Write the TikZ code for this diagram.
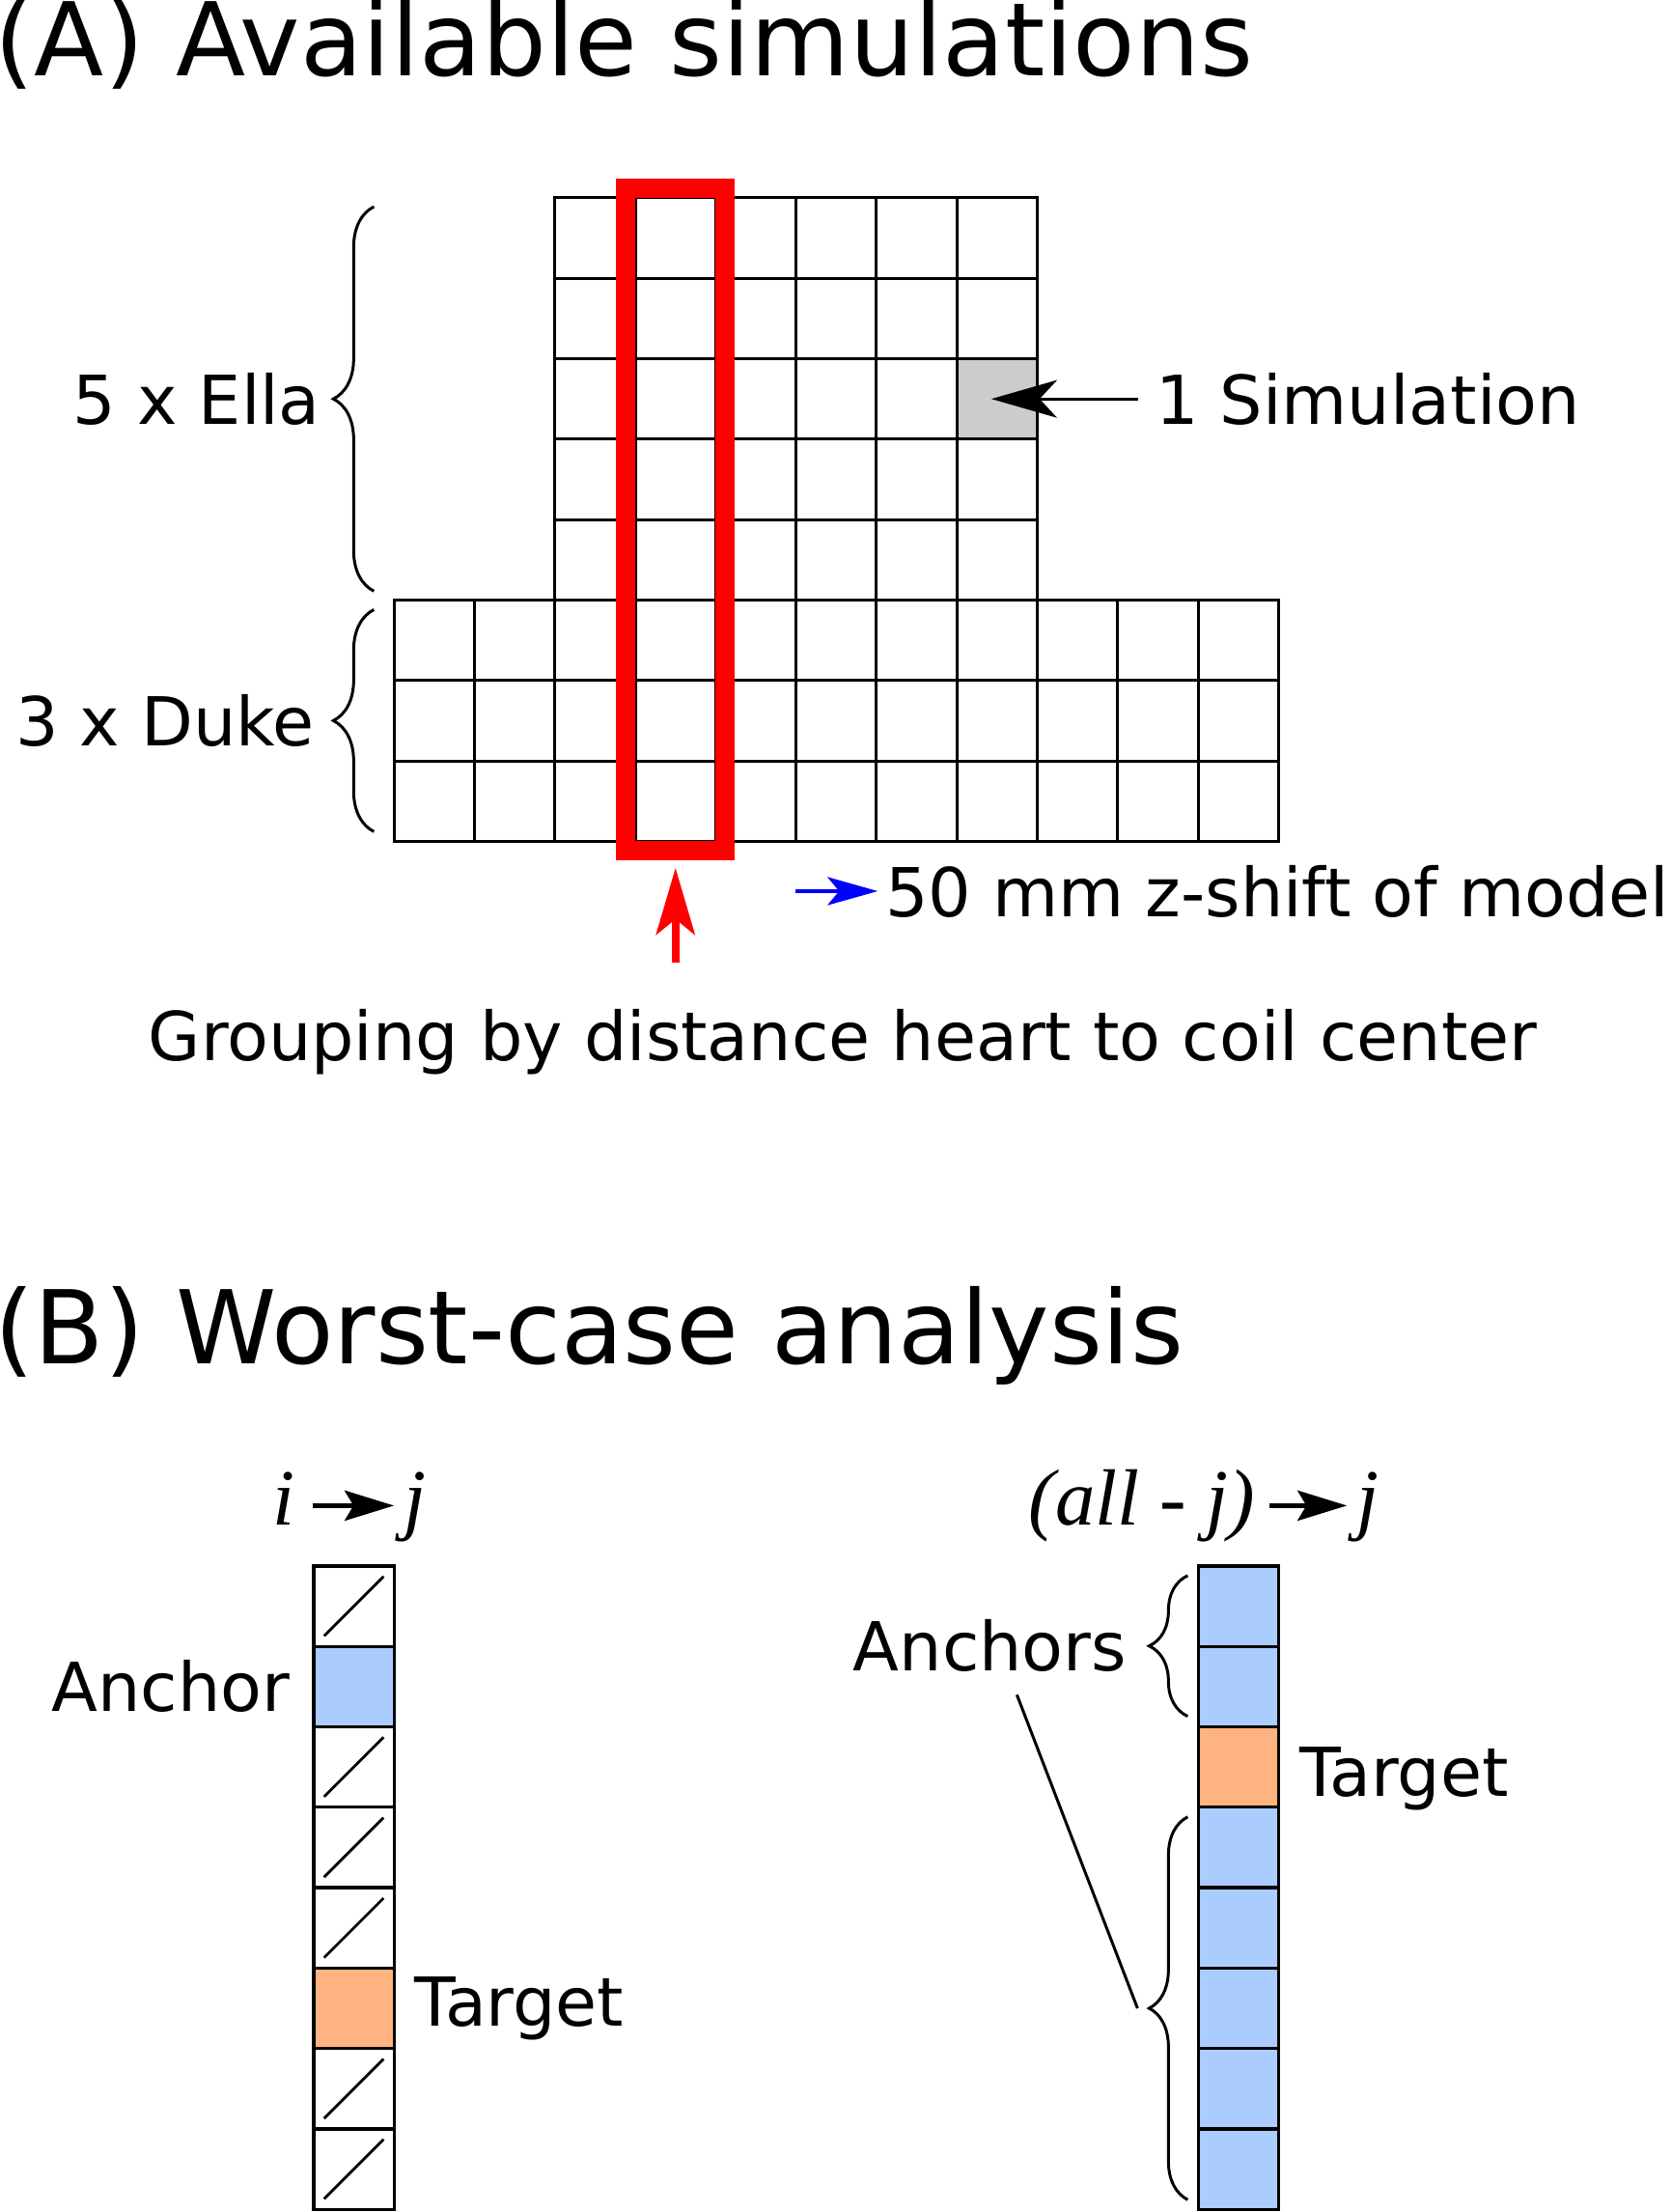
\documentclass[tikz,border=0pt]{standalone}
\usepackage{fontspec}
\setmainfont{DejaVu Sans}
\newfontfamily\varfont{Liberation Serif}
\usetikzlibrary{positioning,arrows.meta,decorations.pathreplacing,fit,calc}
\definecolor{anchorblue}{HTML}{AACCFF}
\definecolor{targetorange}{HTML}{FFB380}
\definecolor{simgray}{HTML}{CCCCCC}
\newcommand{\titlefont}{\fontsize{30}{36}\selectfont}
\newcommand{\lblfont}{\fontsize{19.9}{24}\selectfont}
\newcommand{\varsize}{\fontsize{23.5}{28}\selectfont\varfont\itshape}

\begin{document}
\begin{tikzpicture}[x=0.833cm,y=-0.833cm,
  gridcell/.style={draw,line width=0.85pt,minimum size=0.833cm,inner sep=0pt,outer sep=0pt},
  colcell/.style={draw,line width=0.95pt,minimum size=0.833cm,inner sep=0pt,outer sep=0pt},
  lbl/.style={inner sep=0pt,font=\lblfont},
  ttl/.style={inner sep=0pt,font=\titlefont,anchor=base west},
  varlbl/.style={inner sep=0pt,font=\varsize},
  curly/.style={decorate,decoration={brace,amplitude=#1},line width=0.85pt},
  simarrow/.style={-{Stealth[length=0.68cm,width=0.39cm,inset=0.18cm]},line width=0.8pt},
  grouparrow/.style={red,-{Stealth[length=0.69cm,width=0.4cm,inset=0.16cm]},line width=2.3pt},
  shiftarrow/.style={blue,-{Stealth[length=0.52cm,width=0.29cm,inset=0.12cm]},line width=1.4pt},
  ijarrow/.style={-{Stealth[length=0.51cm,width=0.31cm,inset=0.09cm]},line width=1.6pt}]
\useasboundingbox (0,0) rectangle (20.792,27.503);

% (A) available simulations
\node[ttl] (titleA) at (-0.07,0.948) {(A) Available simulations};

\foreach \c in {0,...,5}
  \foreach \r in {0,...,4}
    \node[gridcell] (ella-\c-\r) at (7.4+\c,2.96+\r) {};
\foreach \c in {0,...,10}
  \foreach \r in {0,...,2}
    \node[gridcell] (duke-\c-\r) at (5.4+\c,7.96+\r) {};
\node[gridcell,fill=simgray] (ella-5-2) at (12.4,4.96) {};

\node[draw=red,line width=0.2cm,inner sep=0.1cm,fit=(ella-1-0)(duke-3-2)] (redbox) {};

\draw[curly=0.42cm] (4.65,7.35) -- (4.65,2.57) node[midway,lbl,left=0.54cm] (ellalbl) {5 x Ella};
\draw[curly=0.42cm] (4.65,10.34) -- (4.65,7.58) node[midway,lbl,left=0.6cm] (dukelbl) {3 x Duke};

\node[lbl,right=1.22cm of ella-5-2] (simlbl) {1 Simulation};
\draw[simarrow] ([xshift=-0.18cm]simlbl.west) -- ([xshift=-0.06cm]ella-5-2.center);

\node[lbl,anchor=west] (zshift) at (11.0,11.08) {50 mm z-shift of model};
\coordinate (shiftstart) at (9.89,11.08);
\draw[shiftarrow] (shiftstart) -- ([xshift=-0.07cm]zshift.west);

\node[lbl,anchor=base] (grouplbl) at (10.48,13.19) {Grouping by distance heart to coil center};
\draw[grouparrow,shorten <=0.48cm,shorten >=0.076cm] (grouplbl.north -| redbox.south) -- (redbox.south);

% (B) worst-case analysis
\node[ttl] (titleB) at (-0.07,16.96) {(B) Worst-case analysis};

\foreach \k/\fc in {0/white,1/anchorblue,2/white,3/white,4/white,5/targetorange,6/white,7/white}
  \node[colcell,fill=\fc] (one-\k) at (4.4,19.97+\k) {};
\foreach \k in {0,2,3,4,6,7}
  \draw[line width=0.8pt] ([shift={(0.13,-0.13)}]one-\k.south west) -- ([shift={(-0.13,0.13)}]one-\k.north east);
\node[lbl,left=0.24cm of one-1] (anchorlbl) {Anchor};
\node[lbl,right=0.21cm of one-5] (targetlbl) {Target};

\node[varlbl,anchor=base east] (ivar) at (3.67,18.96) {i};
\node[varlbl,anchor=base west] (jvar) at (5.02,18.96) {j};
\draw[ijarrow] ([xshift=0.18cm,yshift=0.2cm]ivar.base east) -- ([xshift=-0.1cm,yshift=0.2cm]jvar.base west);

\foreach \k/\fc in {0/anchorblue,1/anchorblue,2/targetorange,3/anchorblue,4/anchorblue,5/anchorblue,6/anchorblue,7/anchorblue}
  \node[colcell,fill=\fc] (all-\k) at (15.4,19.97+\k) {};
\node[lbl,right=0.21cm of all-2,yshift=-0.12cm] (targetlbl2) {Target};

\draw[curly=0.4cm] (14.77,21.34) -- (14.77,19.59) node[midway,lbl,left=0.62cm] (anchorslbl) {Anchors};
\draw[curly=0.4cm] (14.77,27.35) -- (14.77,22.59) node[midway,inner sep=0pt,minimum size=0pt,xshift=-0.4cm] (lowtip) {};
\draw[line width=0.85pt] ([xshift=0.28cm,yshift=-0.22cm]anchorslbl.south) -- ([xshift=-0.12cm]lowtip.center);

\node[varlbl,anchor=base east] (allvar) at (15.61,18.96) {(all - j)};
\node[varlbl,anchor=base west] (jvar2) at (16.87,18.96) {j};
\draw[ijarrow] ([xshift=0.15cm,yshift=0.2cm]allvar.base east) -- ([xshift=-0.1cm,yshift=0.2cm]jvar2.base west);
\end{tikzpicture}
\end{document}
